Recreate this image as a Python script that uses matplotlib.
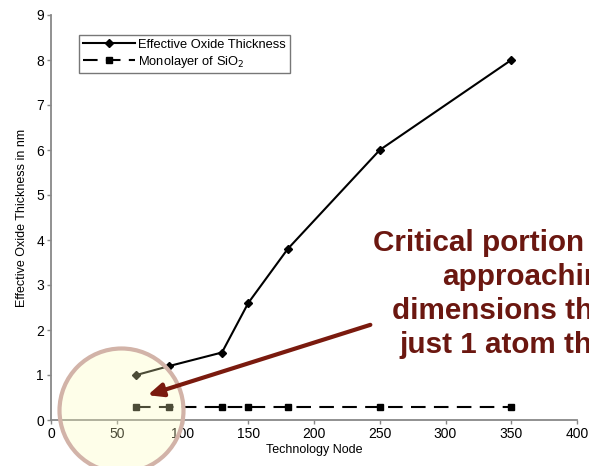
import matplotlib
matplotlib.use("Agg")
import matplotlib.pyplot as plt
from matplotlib.patches import Circle, FancyArrowPatch

nodes = [65, 90, 130, 150, 180, 250, 350]
eot = [1.0, 1.2, 1.5, 2.6, 3.8, 6.0, 8.0]
monolayer = [0.3, 0.3, 0.3, 0.3, 0.3, 0.3, 0.3]
xticks = [0, 50, 100, 150, 200, 250, 300, 350, 400]
yticks = [0, 1, 2, 3, 4, 5, 6, 7, 8, 9]
callout = ["Critical portion of gate", "approaching", "dimensions that are", "just 1 atom thick"]

plt.rcParams['font.family'] = ['Liberation Sans', 'DejaVu Sans']

W, H = 589, 466
fig = plt.figure(figsize=(W / 100, H / 100), dpi=100)
ax = fig.add_axes([51 / W, 1 - 420 / H, (577 - 51) / W, (420 - 15) / H])

ax.plot(nodes, eot, color='black', lw=1.5, marker='D', ms=4,
        label='Effective Oxide Thickness', zorder=3)
ax.plot(nodes, monolayer, color='black', lw=1.5, marker='s', ms=5,
        dashes=(7, 4), label='Monolayer of SiO$_2$', zorder=3)

ax.set_xlim(0, 400)
ax.set_ylim(0, 9)
ax.set_xticks(xticks)
ax.set_yticks(yticks)
ax.tick_params(direction='out', length=3, width=1, color='#888888', labelsize=10, pad=2)
for s in ['top', 'right']:
    ax.spines[s].set_visible(False)
for s in ['left', 'bottom']:
    ax.spines[s].set_color('#888888')
    ax.spines[s].set_linewidth(1.3)
ax.set_xlabel('Technology Node', fontsize=9, labelpad=2)
ax.set_ylabel('Effective Oxide Thickness in nm', fontsize=9, labelpad=6)

leg = ax.legend(loc='upper left', bbox_to_anchor=(79 / W, 1 - 35 / H),
                bbox_transform=fig.transFigure, fontsize=9.3, frameon=True,
                fancybox=False, framealpha=1, edgecolor='#777777',
                handlelength=4, borderpad=0.3, labelspacing=0.2,
                handletextpad=0.3, borderaxespad=0)
leg.get_frame().set_linewidth(1)

# highlight circle (figure pixel coords)
cx, cy, r = 121.5, H - 410.5, 62
fill = Circle((cx, cy), r, transform=None, facecolor=(0.99, 0.99, 0.72),
              alpha=0.3, edgecolor='none', zorder=10)
edge = Circle((cx, cy), r, transform=None, facecolor='none',
              edgecolor='#d2b3a8', lw=3, zorder=11)
fig.patches.extend([fill, edge])

arrow = FancyArrowPatch((373, H - 324), (145, H - 396), transform=None,
                        arrowstyle='-|>,head_length=9,head_width=4',
                        color='#7a1a0e', lw=3, zorder=12, mutation_scale=1)
fig.patches.append(arrow)

tc = '#6b1710'
xs = [373, 442, 392, 399]
ys = [251, 285, 319, 353]
for t, x, y in zip(callout, xs, ys):
    fig.text(x / W, 1 - y / H, t, fontsize=21.3, fontweight='bold', color=tc,
             ha='left', va='baseline')

fig.savefig('out.png', dpi=100)
